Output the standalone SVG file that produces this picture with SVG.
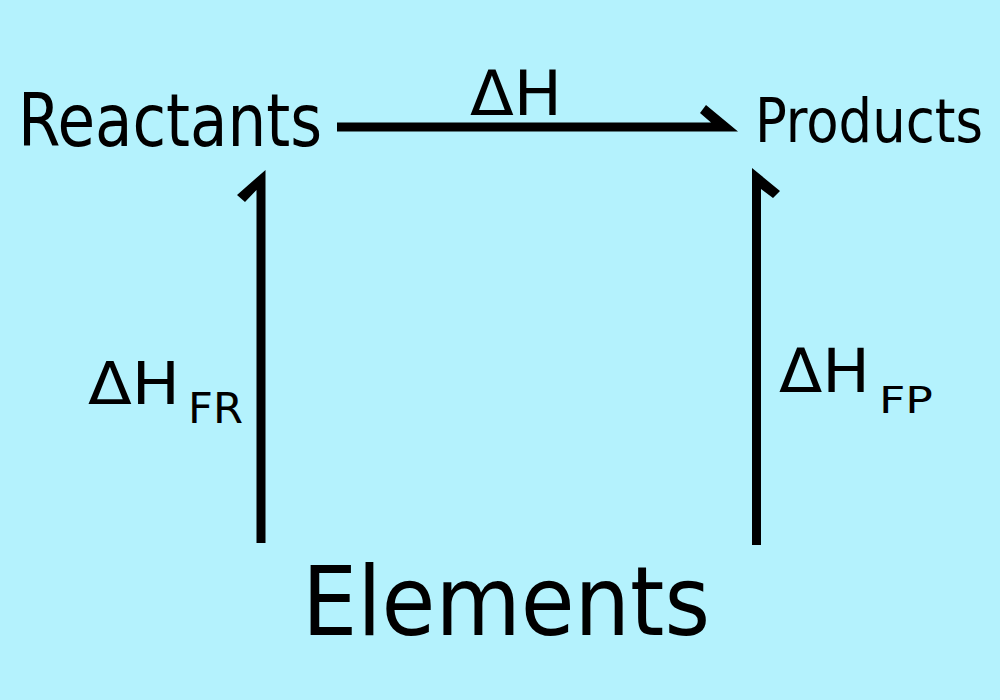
<svg xmlns="http://www.w3.org/2000/svg" width="1000" height="700" viewBox="0 0 1000 700">
<style>
.t{font-family:"DejaVu Sans Condensed","DejaVu Sans",sans-serif;fill:#000}
.s{font-family:"DejaVu Sans",sans-serif;fill:#000}
.a{fill:#000;stroke:none}
</style>
<rect width="1000" height="700" fill="#b4f2fd"/>
<g id="connectors">
<polygon class="a" points="337,122.5 711,122.5 700,113 706,105 738,131.5 337,131.5"/>
<polygon class="a" points="256.5,543 256.5,190 245,202 237,195 265.5,170 265.5,543"/>
<polygon class="a" points="752,545 752,168 780,191 773,198 761,189 761,545"/>
</g>
<g id="reactants"><text class="t" x="18" y="146" font-size="73" textLength="304" lengthAdjust="spacingAndGlyphs">Reactants</text></g>
<g id="products"><text class="t" x="755" y="142" font-size="61" textLength="228" lengthAdjust="spacingAndGlyphs">Products</text></g>
<g id="elements"><text class="t" x="302" y="635" font-size="96" textLength="408" lengthAdjust="spacingAndGlyphs">Elements</text></g>
<g id="dh"><text class="s" x="470" y="115" font-size="62" textLength="92" lengthAdjust="spacingAndGlyphs">ΔH</text></g>
<g id="dhfr"><text class="s" x="88" y="404" font-size="58" textLength="92" lengthAdjust="spacingAndGlyphs">ΔH</text><text class="s" x="188" y="423" font-size="42" textLength="55" lengthAdjust="spacingAndGlyphs">FR</text></g>
<g id="dhfp"><text class="s" x="779" y="392" font-size="60" textLength="91" lengthAdjust="spacingAndGlyphs">ΔH</text><text class="s" x="879" y="413" font-size="38" textLength="54" lengthAdjust="spacingAndGlyphs">FP</text></g>
</svg>
